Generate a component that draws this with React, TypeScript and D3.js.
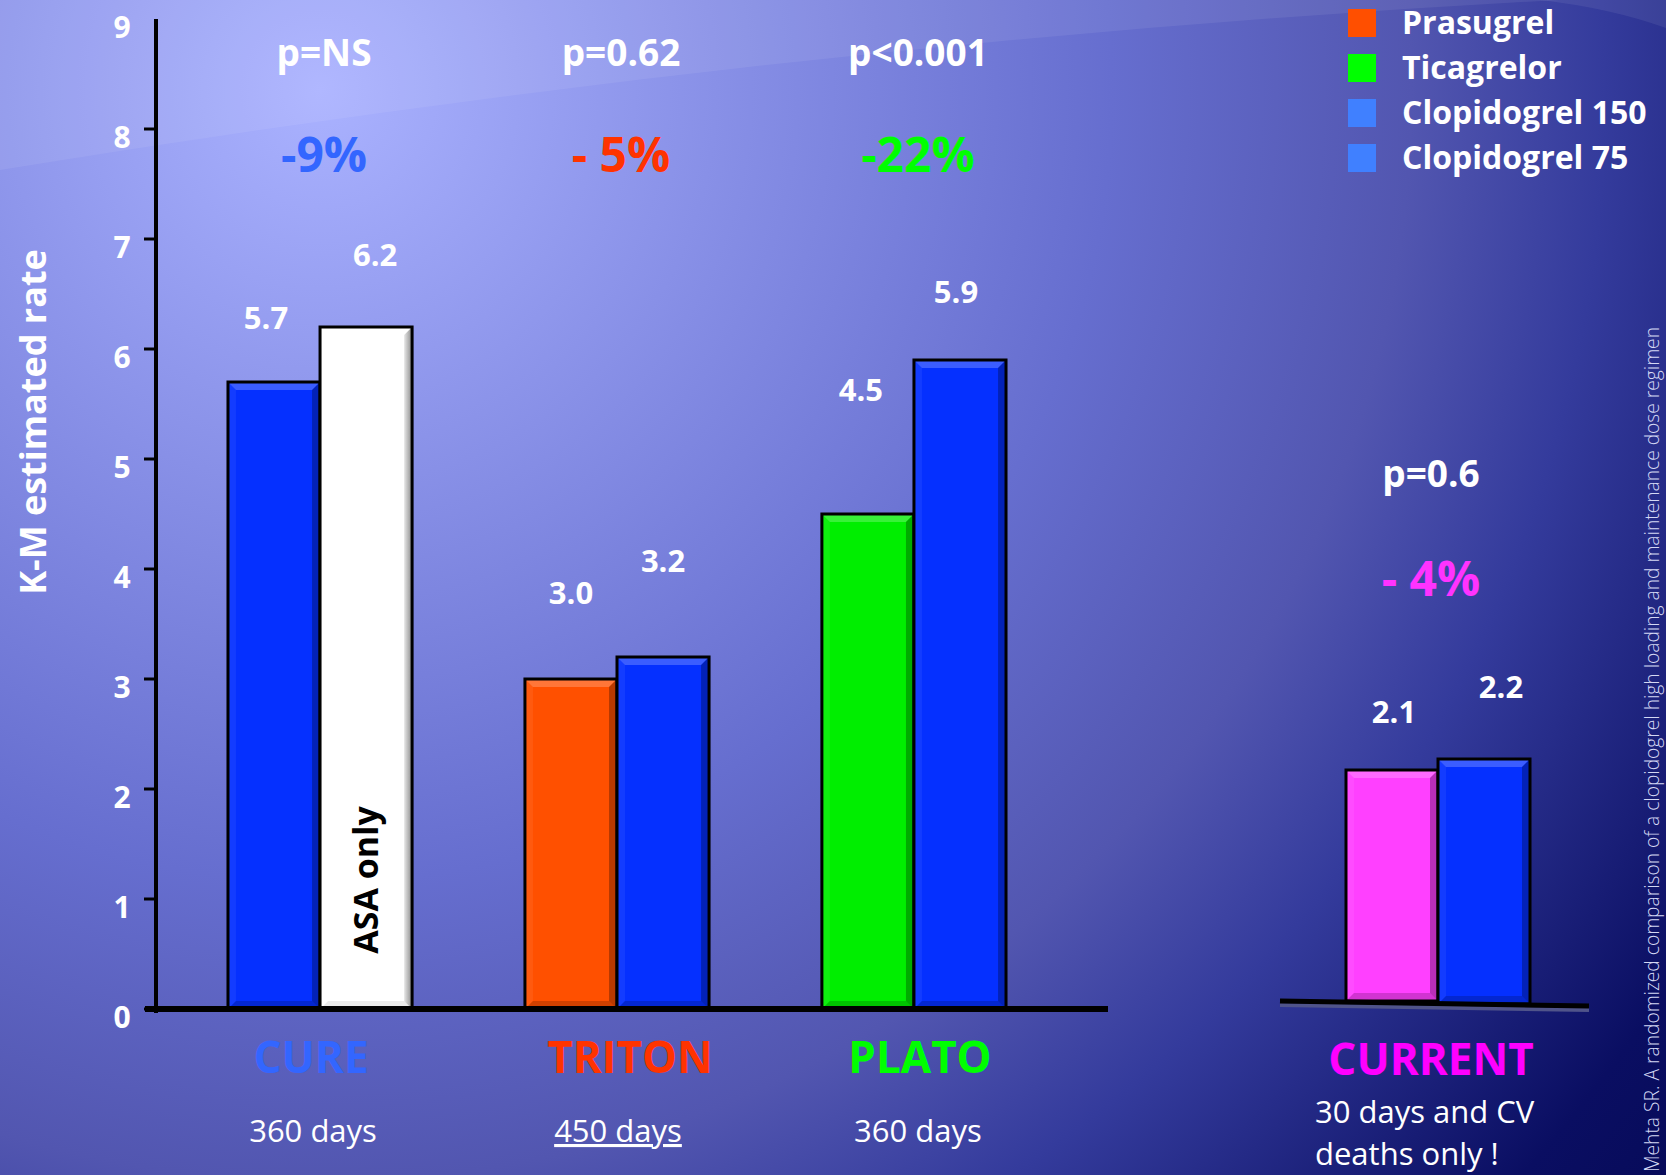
import React from "react";
import * as d3 from "d3";

// trials on the main axis, CURRENT drawn apart on its own baseline
const trials = ["CURE", "TRITON", "PLATO"];
const durations = ["360 days", "450 days", "360 days"];
const newDrugValues = [5.7, 3.0, 4.5];
const clopidogrelValues = [6.2, 3.2, 5.9];
const pValues = ["p=NS", "p=0.62", "p<0.001"];
const reductions = ["-9%", "- 5%", "-22%"];

const currentName = "CURRENT";
const currentValues = [2.1, 2.2];
const currentP = "p=0.6";
const currentReduction = "- 4%";
const currentNote = ["30 days and CV", "deaths only !"];

const yTickValues = [0, 1, 2, 3, 4, 5, 6, 7, 8, 9];
const legendLabels = ["Prasugrel", "Ticagrelor", "Clopidogrel 150", "Clopidogrel 75"];
const footnote =
  "Mehta SR. A randomized comparison of a clopidogrel high loading and maintenance dose regimen";

// styling
const BLUE = "#0530ff";
const trialBarColors = [
  [BLUE, "#ffffff"],
  ["#ff5000", BLUE],
  ["#00ee00", BLUE],
];
const currentBarColors = ["#ff40ff", BLUE];
const trialTextColors = ["#3366ff", "#ff3300", "#00ff00"];
const currentColor = "#ff00ff";
const legendColors = ["#ff4f00", "#00ff00", "#4080ff", "#4080ff"];
// [dx, lift above bar top] for the value labels, as placed on the slide
const labelNudge = [
  [[-8, 53], [9, 61]],
  [[0, 75], [0, 85]],
  [[-7, 113], [-4, 57]],
];
const currentNudge = [[2, 47], [17, 61]];
const nameDx = [-9, 13, 6];
const daysDx = [-7, 1, 4];

const W = 1666;
const H = 1175;
const FONT = "'Open Sans', 'DejaVu Sans', sans-serif";

const Bar = ({ x, y, w, h, color }: { x: number; y: number; w: number; h: number; color: string }) => {
  const b = 8;
  const isWhite = color === "#ffffff";
  return (
    <g>
      <rect x={x} y={y} width={w} height={h} fill={color} />
      <polygon points={`${x},${y} ${x + w},${y} ${x + w - b},${y + b} ${x + b},${y + b}`} fill="#fff" opacity={isWhite ? 0 : 0.22} />
      <polygon points={`${x},${y} ${x},${y + h} ${x + b},${y + h - b} ${x + b},${y + b}`} fill="#fff" opacity={0.06} />
      <polygon
        points={`${x + w},${y} ${x + w},${y + h} ${x + w - b},${y + h - b} ${x + w - b},${y + b}`}
        fill={isWhite ? "url(#whiteEdge)" : "#000"}
        opacity={isWhite ? 1 : 0.28}
      />
      <polygon points={`${x},${y + h} ${x + w},${y + h} ${x + w - b},${y + h - b} ${x + b},${y + h - b}`} fill="#000" opacity={isWhite ? 0.08 : 0.18} />
      <rect x={x} y={y} width={w} height={h} fill="none" stroke="#000" strokeWidth={3} />
    </g>
  );
};

export default function App() {
  const y = d3.scaleLinear().domain([0, 9]).range([1009, 19]);
  const yCur = d3.scaleLinear().domain([0, 9]).range([1001, 11]);

  const x = d3.scaleBand<string>().domain(trials).range([156, 1078]).paddingInner(0.38).paddingOuter(0.2424);
  const xCur = d3.scaleBand<string>().domain([currentName]).range([1346, 1530]).padding(0);
  const sub = d3.scaleBand<number>().domain([0, 1]).range([0, x.bandwidth()]).padding(0);
  const subCur = d3.scaleBand<number>().domain([0, 1]).range([0, xCur.bandwidth()]).padding(0);
  const fmt = d3.format(".1f");

  const groups = trials.map((name, i) => ({
    name,
    values: [newDrugValues[i], clopidogrelValues[i]],
    colors: trialBarColors[i],
  }));

  return (
    <svg width={W} height={H} style={{ position: "absolute", left: 0, top: 0, display: "block" }} fontFamily={FONT}>
      <defs>
        <radialGradient id="bg" gradientUnits="userSpaceOnUse" cx={320} cy={90} r={1760}>
          <stop offset="0" stopColor="#aab2ff" />
          <stop offset="0.45" stopColor="#666ecf" />
          <stop offset="0.62" stopColor="#5256b0" />
          <stop offset="0.73" stopColor="#343b9c" />
          <stop offset="0.92" stopColor="#0a0e62" />
          <stop offset="1" stopColor="#060a58" />
        </radialGradient>
        <linearGradient id="whiteEdge" x1="0" x2="1" y1="0" y2="0">
          <stop offset="0" stopColor="#e8e8e8" />
          <stop offset="1" stopColor="#8a8a8a" />
        </linearGradient>
      </defs>
      <rect width={W} height={H} fill="url(#bg)" />
      <path d="M0,170 Q800,40 1560,0 L0,0 Z" fill="#fff" opacity={0.07} />
      <path d="M1540,0 Q1610,8 1666,28 L1666,0 Z" fill="#fff" opacity={0.07} />

      {/* y axis */}
      <text transform="translate(46,422) rotate(-90)" textAnchor="middle" fill="#fff" fontSize={36} fontWeight="bold">
        K-M estimated rate
      </text>
      {yTickValues.map((v) => (
        <g key={v}>
          {v < 9 && <line x1={144} x2={156} y1={y(v)} y2={y(v)} stroke="#000" strokeWidth={3} />}
          <text x={122} y={y(v) + 19} textAnchor="middle" fill="#fff" fontSize={30} fontWeight="bold">
            {v}
          </text>
        </g>
      ))}

      {/* main bars */}
      {groups.map((g, i) => {
        const gx = x(g.name)!;
        const cx = gx + x.bandwidth() / 2;
        return (
          <g key={g.name}>
            {g.values.map((v, j) => {
              const bx = gx + sub(j)!;
              return (
                <g key={j}>
                  <Bar x={bx} y={y(v)} w={sub.bandwidth()} h={y(0) - y(v)} color={g.colors[j]} />
                  <text
                    x={bx + sub.bandwidth() / 2 + labelNudge[i][j][0]}
                    y={y(v) - labelNudge[i][j][1]}
                    textAnchor="middle"
                    fill="#fff"
                    fontSize={31}
                    fontWeight="bold"
                  >
                    {fmt(v)}
                  </text>
                </g>
              );
            })}
            <text x={cx + 4} y={66} textAnchor="middle" fill="#fff" fontSize={37} fontWeight="bold">
              {pValues[i]}
            </text>
            <text x={cx + 4} y={172} textAnchor="middle" fill={trialTextColors[i]} fontSize={48} fontWeight="bold">
              {reductions[i]}
            </text>
            <text x={cx + nameDx[i]} y={1073} textAnchor="middle" fill={trialTextColors[i]} fontSize={44} fontWeight="bold">
              {g.name}
            </text>
            <text
              x={cx + daysDx[i]}
              y={1142}
              textAnchor="middle"
              fill="#fff"
              fontSize={31}
              textDecoration={i === 1 ? "underline" : undefined}
            >
              {durations[i]}
            </text>
          </g>
        );
      })}
      {/* ASA only label inside white bar */}
      <text
        transform={`translate(${x("CURE")! + sub(1)! + sub.bandwidth() / 2 + 12},880) rotate(-90)`}
        textAnchor="middle"
        fill="#000"
        fontSize={34}
        fontWeight="bold"
      >
        ASA only
      </text>
      <line x1={145} x2={1108} y1={1009} y2={1009} stroke="#000" strokeWidth={6} />
      <line x1={156} x2={156} y1={19} y2={1013} stroke="#000" strokeWidth={4} />

      {/* CURRENT inset */}
      {currentValues.map((v, j) => {
        const bx = xCur(currentName)! + subCur(j)!;
        return (
          <g key={j}>
            <Bar x={bx} y={yCur(v)} w={subCur.bandwidth()} h={yCur(0) - yCur(v) + j * 3} color={currentBarColors[j]} />
            <text
              x={bx + subCur.bandwidth() / 2 + currentNudge[j][0]}
              y={yCur(v) - currentNudge[j][1]}
              textAnchor="middle"
              fill="#fff"
              fontSize={31}
              fontWeight="bold"
            >
              {fmt(v)}
            </text>
          </g>
        );
      })}
      <line x1={1280} x2={1589} y1={1005} y2={1010} stroke="#50548a" strokeWidth={4} />
      <line x1={1280} x2={1589} y1={1001} y2={1006} stroke="#000" strokeWidth={5} />
      <text x={1431} y={487} textAnchor="middle" fill="#fff" fontSize={37} fontWeight="bold">
        {currentP}
      </text>
      <text x={1431} y={596} textAnchor="middle" fill="#ff33ff" fontSize={48} fontWeight="bold">
        {currentReduction}
      </text>
      <text x={1431} y={1075} textAnchor="middle" fill={currentColor} fontSize={44} fontWeight="bold">
        {currentName}
      </text>
      {currentNote.map((t, i) => (
        <text key={t} x={1315} y={1123 + i * 42} fill="#fff" fontSize={31}>
          {t}
        </text>
      ))}

      {/* legend */}
      {legendLabels.map((label, i) => (
        <g key={label} transform={`translate(1348,${9 + i * 45})`}>
          <rect width={28} height={28} fill={legendColors[i]} />
          <text x={54} y={25} fill="#fff" fontSize={32} fontWeight="bold">
            {label}
          </text>
        </g>
      ))}

      {/* source */}
      <text
        transform="translate(1659,327) rotate(-90)"
        textAnchor="end"
        fill="#d4d8f4"
        fontSize={21}
        fontWeight={300}
        textLength={845}
        lengthAdjust="spacingAndGlyphs"
      >
        {footnote}
      </text>
    </svg>
  );
}
